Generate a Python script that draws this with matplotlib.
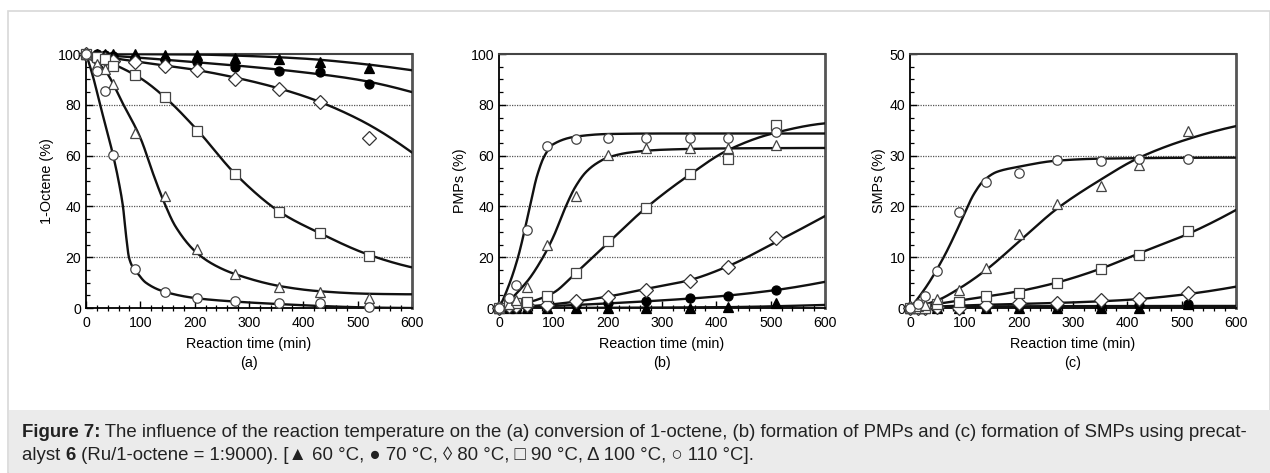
import numpy as np
import matplotlib
matplotlib.use("Agg")
import matplotlib.pyplot as plt
from matplotlib.patches import Rectangle
from matplotlib.ticker import MultipleLocator

plt.rcParams['font.family'] = ['Liberation Sans', 'DejaVu Sans']

temps = ['60', '70', '80', '90', '100', '110']

# ---------- panel (a): 1-octene (%) ----------
t_a = [0, 20, 35, 50, 90, 145, 205, 275, 355, 430, 520]
a_60 = [100, 100, 100, 100, 100, 99.6, 99.5, 98.5, 97.9, 97.0, 94.3]
a_70 = [100, 100, 99.5, 99.3, 98.5, 97.5, 96.7, 94.7, 93.4, 92.8, 88.3]
a_80 = [100, 98, 98, 97.4, 96.7, 95.4, 93.6, 90.3, 86.4, 81.1, 66.8]
a_90 = [100, 99, 98, 95.2, 91.9, 83.0, 69.5, 52.6, 37.8, 29.5, 20.5]
a_100 = [100, 96, 93.9, 88.1, 68.9, 44.2, 23.1, 13.3, 8.4, 6.3, 3.9]
a_110 = [100, 93.4, 85.3, 60.1, 15.2, 6.4, 3.8, 2.9, 2.1, 2.0, 0.3]

# fitted trend curves (a), knots
fa60_x = [0, 200, 300, 400, 500, 600]
fa60_y = [100, 99.8, 99.2, 98.2, 96.3, 93.6]
fa70_x = [0, 100, 200, 300, 400, 500, 600]
fa70_y = [100, 98.5, 96.8, 95, 92.8, 89.9, 85]
fa80_x = [0, 100, 200, 300, 400, 500, 600]
fa80_y = [100, 96.8, 93.8, 89.5, 83.5, 74.5, 61.2]
fa90_x = [0, 50, 100, 145, 205, 276, 359, 430, 520, 600]
fa90_y = [100, 96, 90.5, 83, 70, 52.5, 37.5, 29.5, 21, 16]
fa100_x = [0, 35, 69, 100, 125, 143, 165, 205, 240, 275, 360, 430, 520, 600]
fa100_y = [100, 93.5, 80, 67, 52, 42, 32, 21.5, 16.5, 13.3, 8.5, 6.6, 5.6, 5.4]
fa110_x = [0, 13, 26, 50, 60, 68, 74, 79, 85, 92, 110, 143, 205, 276, 359, 430, 520, 600]
fa110_y = [100, 91, 80, 60, 50, 40, 28, 20, 16.5, 14.5, 10, 6.5, 3.8, 2.5, 1.5, 0.8, 0.2, 0]

# ---------- panel (b): PMPs (%) ----------
t_b = [0, 18, 31, 51, 89, 141, 201, 270, 351, 421, 510]
b_60 = [0, 0, 0, 0, 0, 0, 0, 0, 0, 0.4, 2.0]
b_70 = [0, 0.3, 0.5, 0.6, 0.8, 1.3, 1.8, 2.8, 3.9, 4.6, 7.0]
b_80 = [0, 0.8, 0.8, 1.0, 1.3, 2.8, 4.3, 7.2, 10.7, 16.2, 27.4]
b_90 = [0, 1.7, 2.0, 2.5, 4.6, 13.8, 26.3, 39.3, 52.6, 58.8, 72.2]
b_100 = [0, 1.5, 3.0, 8.3, 24.7, 44.2, 60.1, 62.8, 62.9, 63.0, 64.1]
b_110 = [0, 4.1, 9.2, 30.7, 63.8, 66.4, 66.8, 67.0, 67.0, 66.9, 69.4]

fb60_x = [0, 400, 600]
fb60_y = [0, 0.3, 1.2]
fb70_x = [0, 100, 200, 300, 400, 500, 600]
fb70_y = [0, 0.8, 1.8, 3, 4.5, 6.8, 10.3]
fb80_x = [0, 100, 200, 270, 351, 422, 510, 600]
fb80_y = [0, 1.5, 4.5, 7.5, 11, 16.5, 26, 36.2]
fb90_x = [0, 50, 100, 140, 200, 271, 351, 420, 500, 600]
fb90_y = [0, 2, 6, 13.5, 25.5, 39.5, 52.5, 62, 68.5, 72.7]
fb100_x = [0, 50, 81, 100, 123, 140, 160, 180, 200, 240, 300, 400, 600]
fb100_y = [0, 10, 20, 28, 40, 47.5, 53.5, 57, 59.2, 61.2, 62.3, 62.8, 63]
fb110_x = [0, 20, 35, 55, 70, 84, 100, 142, 200, 300, 600]
fb110_y = [0, 10, 20, 38, 52, 60, 64.5, 67.5, 68.5, 68.7, 68.7]

# ---------- panel (c): SMPs (%) ----------
t_c = [0, 15, 28, 49, 90, 139, 200, 270, 351, 421, 512]
c_60 = [0, 0, 0, 0, 0, 0, 0, 0, 0, 0, 0.7]
c_70 = [0, 0, 0, 0.1, 0.2, 0.2, 0.3, 0.3, 0.4, 0.5, 0.8]
c_80 = [0, 0, 0, 0.2, 0, 0.5, 0.9, 0.9, 1.5, 1.7, 3.0]
c_90 = [0, 0, 0, 0.7, 1.2, 2.3, 3.0, 5.0, 7.7, 10.4, 15.2]
c_100 = [0, 0.3, 0.5, 1.8, 3.6, 7.9, 14.5, 20.4, 24.0, 28.2, 34.9]
c_110 = [0, 0.7, 2.4, 7.3, 18.8, 24.9, 26.5, 29.1, 28.9, 29.3, 29.3]

fc60_x = [0, 600]
fc60_y = [0.1, 0.2]
fc70_x = [0, 100, 600]
fc70_y = [0, 0.3, 0.4]
fc80_x = [0, 100, 200, 300, 400, 500, 600]
fc80_y = [0, 0.5, 0.8, 1.1, 1.6, 2.6, 4.2]
fc90_x = [0, 50, 100, 200, 270, 350, 420, 512, 600]
fc90_y = [0, 0.8, 1.6, 3.3, 5, 7.7, 10.7, 14.6, 19.3]
fc100_x = [0, 50, 90, 140, 200, 270, 350, 420, 510, 600]
fc100_y = [0, 1.5, 3.8, 7.5, 13, 19.5, 25.2, 29.5, 33.2, 35.8]
fc110_x = [0, 30, 62, 85, 101, 118, 135, 160, 200, 270, 350, 600]
fc110_y = [0, 4.2, 10, 15, 18.8, 22.5, 25, 26.8, 27.8, 29, 29.4, 29.6]

x_ticks = [0, 100, 200, 300, 400, 500, 600]
ylabels = ['1-Octene (%)', 'PMPs (%)', 'SMPs (%)']
panel_tags = ['(a)', '(b)', '(c)']
xlabel = 'Reaction time (min)'


def pchip(x, y, xs):
    x = np.asarray(x, float); y = np.asarray(y, float)
    h = np.diff(x); d = np.diff(y) / h
    n = len(x)
    m = np.zeros(n)
    if n == 2:
        m[:] = d[0]
    else:
        for k in range(1, n - 1):
            if d[k - 1] * d[k] <= 0:
                m[k] = 0
            else:
                w1 = 2 * h[k] + h[k - 1]; w2 = h[k] + 2 * h[k - 1]
                m[k] = (w1 + w2) / (w1 / d[k - 1] + w2 / d[k])
        m0 = ((2 * h[0] + h[1]) * d[0] - h[0] * d[1]) / (h[0] + h[1])
        if np.sign(m0) != np.sign(d[0]):
            m0 = 0
        elif np.sign(d[0]) != np.sign(d[1]) and abs(m0) > abs(3 * d[0]):
            m0 = 3 * d[0]
        m[0] = m0
        mn = ((2 * h[-1] + h[-2]) * d[-1] - h[-1] * d[-2]) / (h[-1] + h[-2])
        if np.sign(mn) != np.sign(d[-1]):
            mn = 0
        elif np.sign(d[-1]) != np.sign(d[-2]) and abs(mn) > abs(3 * d[-1]):
            mn = 3 * d[-1]
        m[-1] = mn
    idx = np.clip(np.searchsorted(x, xs) - 1, 0, n - 2)
    t = (xs - x[idx]) / h[idx]
    h00 = 2 * t**3 - 3 * t**2 + 1
    h10 = t**3 - 2 * t**2 + t
    h01 = -2 * t**3 + 3 * t**2
    h11 = t**3 - t**2
    return h00 * y[idx] + h10 * h[idx] * m[idx] + h01 * y[idx + 1] + h11 * h[idx] * m[idx + 1]


W, H = 1270, 473
fig = plt.figure(figsize=(W / 100, H / 100), dpi=100)

# outer frame and caption box
fig.patches.append(Rectangle((8 / W, 0), 1 - 8 / W, 1 - 11 / H, transform=fig.transFigure,
                             facecolor='white', edgecolor='#d8d8d8', lw=1.2, zorder=-10))
fig.patches.append(Rectangle((8.6 / W, 0), 1 - 8.6 / W, 1 - 410 / H, transform=fig.transFigure,
                             facecolor='#ebebeb', edgecolor='none', zorder=-9))

styles = {
    '60': dict(marker='^', mfc='black', mec='black', ms=6.8),
    '70': dict(marker='o', mfc='black', mec='black', ms=6.5),
    '80': dict(marker='D', mfc='white', mec='#333333', ms=7.6),
    '90': dict(marker='s', mfc='white', mec='#444444', ms=6.8),
    '100': dict(marker='^', mfc='white', mec='#444444', ms=7.2),
    '110': dict(marker='o', mfc='white', mec='#444444', ms=6.8),
}

panels = [
    (t_a, [a_60, a_70, a_80, a_90, a_100, a_110],
     [(fa60_x, fa60_y), (fa70_x, fa70_y), (fa80_x, fa80_y), (fa90_x, fa90_y), (fa100_x, fa100_y), (fa110_x, fa110_y)],
     100, 20, 5),
    (t_b, [b_60, b_70, b_80, b_90, b_100, b_110],
     [(fb60_x, fb60_y), (fb70_x, fb70_y), (fb80_x, fb80_y), (fb90_x, fb90_y), (fb100_x, fb100_y), (fb110_x, fb110_y)],
     100, 20, 5),
    (t_c, [c_60, c_70, c_80, c_90, c_100, c_110],
     [(fc60_x, fc60_y), (fc70_x, fc70_y), (fc80_x, fc80_y), (fc90_x, fc90_y), (fc100_x, fc100_y), (fc110_x, fc110_y)],
     50, 10, 2.5),
]

lefts = [86, 499, 910]
ax_top, ax_bot = 54, 308
aw = 326
xs = np.linspace(0, 600, 1200)

for i, (t, series, fits, ymax, ymaj, ymin) in enumerate(panels):
    ax = fig.add_axes([lefts[i] / W, 1 - ax_bot / H, aw / W, (ax_bot - ax_top) / H])
    for (fx, fy) in fits:
        ax.plot(xs, pchip(fx, fy, xs), color='#111111', lw=1.7, zorder=3, solid_capstyle='round')
    for temp, vals in zip(temps, series):
        st = styles[temp]
        ax.plot(t, vals, linestyle='none', marker=st['marker'], ms=st['ms'],
                mfc=st['mfc'], mec=st['mec'], mew=0.9, zorder=5, clip_on=False)
    ax.set_xlim(0, 600)
    ax.set_ylim(0, ymax)
    ax.set_xticks(x_ticks)
    ax.xaxis.set_minor_locator(MultipleLocator(20))
    ax.yaxis.set_major_locator(MultipleLocator(ymaj))
    ax.yaxis.set_minor_locator(MultipleLocator(ymin))
    for yv in np.arange(ymaj, ymax, ymaj):
        ax.axhline(yv, color='#555555', lw=0.9, ls=(0, (1, 1)), zorder=1)
    ax.tick_params(axis='both', which='major', direction='in', length=5, width=1.0,
                   labelsize=10.2, colors='black')
    ax.tick_params(axis='x', which='major', pad=6)
    ax.tick_params(axis='y', which='major', pad=3.5)
    ax.tick_params(axis='x', which='minor', direction='inout', length=4, width=0.9)
    ax.tick_params(axis='y', which='minor', direction='in', length=3, width=0.9)
    ax.spines['left'].set_linewidth(1.3)
    ax.spines['left'].set_color('black')
    ax.spines['bottom'].set_linewidth(1.3)
    ax.spines['bottom'].set_linestyle((0, (1, 1)))
    ax.spines['bottom'].set_color('black')
    ax.spines['top'].set_linewidth(1.5)
    ax.spines['top'].set_color('#444444')
    ax.spines['right'].set_linewidth(2.0)
    ax.spines['right'].set_color('#555555')
    ax.set_ylabel(ylabels[i], fontsize=10.4, labelpad=2.5)
    ax.set_xlabel(xlabel, fontsize=10.4, labelpad=5)
    ax.text(0.5, -0.217, panel_tags[i], transform=ax.transAxes, ha='center', va='center', fontsize=10.4)

# caption with bold parts
fig.canvas.draw()
renderer = fig.canvas.get_renderer()
cap_fs = 13.4


def rich_line(parts, x0, y0):
    x = x0
    for txt, bold in parts:
        t = fig.text(x / W, 1 - y0 / H, txt, fontsize=cap_fs, fontweight='bold' if bold else 'normal',
                     ha='left', va='baseline', color='#222222')
        bb = t.get_window_extent(renderer=renderer)
        x = x + bb.width


rich_line([('Figure 7:', True),
           (' The influence of the reaction temperature on the (a) conversion of 1-octene, (b) formation of PMPs and (c) formation of SMPs using precat-', False)],
          22, 437)
rich_line([('alyst ', False), ('6', True),
           (' (Ru/1-octene = 1:9000). [\u25b2 60 \u00b0C, \u25cf 70 \u00b0C, \u25ca 80 \u00b0C, \u25a1 90 \u00b0C, \u0394 100 \u00b0C, \u25cb 110 \u00b0C].', False)],
          22, 460)

fig.savefig('out.png', dpi=100)
